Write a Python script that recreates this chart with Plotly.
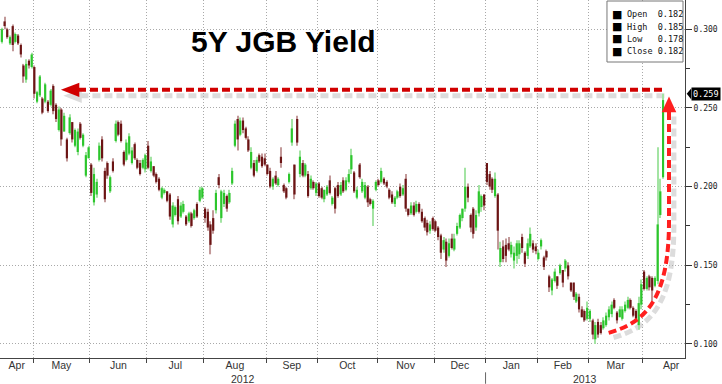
import numpy as np
import plotly.graph_objects as go

# ---------------- data ----------------
MONTHS = ["Apr", "May", "Jun", "Jul", "Aug", "Sep", "Oct", "Nov", "Dec", "Jan", "Feb", "Mar", "Apr"]
MONTH_DAYS = [12, 21, 21, 21, 23, 19, 22, 21, 19, 19, 19, 20, 8]   # trading days shown per month
YEARS = ["2012", "2013"]
YEAR_FIRST_MONTH = [0, 9]
TITLE = "5Y JGB Yield"
LEGEND_ROWS = [("Open", 0.182), ("High", 0.185), ("Low", 0.178), ("Close", 0.182)]
Y_TICKS = [0.100, 0.150, 0.200, 0.250, 0.300]
Y_MINOR = [0.125, 0.175, 0.225, 0.275]

OPEN = [
    0.292, 0.305, 0.300, 0.291, 0.302, 0.292, 0.296, 0.290, 0.277, 0.268, 0.280, 0.276,
    0.276, 0.254, 0.258, 0.256, 0.254, 0.254, 0.252, 0.264, 0.252, 0.236, 0.249, 0.235, 0.230, 0.234, 0.241, 0.226, 0.222, 0.240, 0.226, 0.207, 0.218,
    0.214, 0.190, 0.195, 0.217, 0.230, 0.210, 0.215, 0.197, 0.216, 0.229, 0.241, 0.240, 0.222, 0.217, 0.221, 0.215, 0.227, 0.217, 0.215, 0.212, 0.211,
    0.226, 0.210, 0.213, 0.208, 0.205, 0.193, 0.196, 0.197, 0.195, 0.176, 0.182, 0.192, 0.181, 0.184, 0.181, 0.178, 0.183, 0.180, 0.189, 0.191, 0.193,
    0.186, 0.184, 0.176, 0.180, 0.185, 0.206, 0.180, 0.189, 0.194, 0.190, 0.202, 0.226, 0.243, 0.233, 0.242, 0.237, 0.230, 0.212, 0.215, 0.210, 0.220, 0.219, 0.218,
    0.214, 0.210, 0.200, 0.207, 0.201, 0.219, 0.201, 0.199, 0.203, 0.228, 0.214, 0.243, 0.208, 0.215, 0.207, 0.208, 0.199, 0.203, 0.196,
    0.202, 0.199, 0.192, 0.195, 0.204, 0.189, 0.199, 0.201, 0.195, 0.204, 0.198, 0.203, 0.211, 0.209, 0.193, 0.214, 0.197, 0.193, 0.200, 0.192, 0.186, 0.198,
    0.204, 0.203, 0.205, 0.203, 0.198, 0.195, 0.189, 0.193, 0.200, 0.195, 0.205, 0.186, 0.183, 0.188, 0.184, 0.189, 0.184, 0.180, 0.177, 0.172, 0.180,
    0.178, 0.174, 0.169, 0.160, 0.165, 0.156, 0.167, 0.160, 0.170, 0.174, 0.180, 0.186, 0.200, 0.182, 0.186, 0.174, 0.183, 0.187, 0.195,
    0.215, 0.208, 0.205, 0.194, 0.195, 0.152, 0.162, 0.163, 0.164, 0.157, 0.153, 0.156, 0.157, 0.168, 0.158, 0.156, 0.162, 0.164, 0.162,
    0.154, 0.162, 0.155, 0.159, 0.143, 0.134, 0.140, 0.143, 0.145, 0.147, 0.148, 0.150, 0.139, 0.139, 0.127, 0.130, 0.122, 0.121, 0.116,
    0.116, 0.115, 0.103, 0.114, 0.112, 0.110, 0.112, 0.117, 0.119, 0.128, 0.120, 0.117, 0.116, 0.121, 0.123, 0.128, 0.123, 0.121, 0.112, 0.125,
    0.146, 0.135, 0.143, 0.142, 0.137, 0.140, 0.182, 0.206,
]
HIGH = [
    0.301, 0.308, 0.301, 0.296, 0.303, 0.298, 0.297, 0.291, 0.278, 0.281, 0.281, 0.285,
    0.277, 0.261, 0.271, 0.257, 0.266, 0.255, 0.262, 0.265, 0.253, 0.251, 0.250, 0.247, 0.231, 0.246, 0.241, 0.237, 0.237, 0.241, 0.234, 0.222, 0.226,
    0.215, 0.212, 0.205, 0.228, 0.232, 0.212, 0.216, 0.207, 0.218, 0.242, 0.242, 0.242, 0.223, 0.230, 0.234, 0.225, 0.228, 0.218, 0.217, 0.218, 0.221,
    0.229, 0.219, 0.213, 0.209, 0.206, 0.200, 0.199, 0.197, 0.196, 0.190, 0.188, 0.194, 0.190, 0.191, 0.182, 0.184, 0.184, 0.186, 0.190, 0.200, 0.200,
    0.187, 0.186, 0.178, 0.185, 0.198, 0.208, 0.198, 0.198, 0.195, 0.198, 0.212, 0.242, 0.245, 0.244, 0.244, 0.238, 0.232, 0.225, 0.217, 0.219, 0.221, 0.221, 0.221,
    0.214, 0.212, 0.206, 0.210, 0.206, 0.225, 0.202, 0.200, 0.209, 0.243, 0.214, 0.245, 0.223, 0.217, 0.215, 0.210, 0.207, 0.204, 0.203,
    0.203, 0.200, 0.198, 0.201, 0.207, 0.194, 0.200, 0.203, 0.203, 0.206, 0.206, 0.211, 0.224, 0.210, 0.200, 0.215, 0.205, 0.203, 0.201, 0.193, 0.192, 0.204,
    0.205, 0.212, 0.206, 0.204, 0.199, 0.197, 0.194, 0.198, 0.202, 0.201, 0.208, 0.186, 0.190, 0.190, 0.191, 0.190, 0.186, 0.181, 0.179, 0.178, 0.181,
    0.179, 0.175, 0.170, 0.168, 0.167, 0.167, 0.170, 0.170, 0.177, 0.183, 0.186, 0.212, 0.202, 0.183, 0.187, 0.185, 0.201, 0.195, 0.195,
    0.215, 0.210, 0.206, 0.209, 0.196, 0.165, 0.166, 0.167, 0.168, 0.165, 0.162, 0.166, 0.166, 0.170, 0.159, 0.167, 0.174, 0.166, 0.164,
    0.160, 0.167, 0.156, 0.160, 0.144, 0.142, 0.148, 0.143, 0.151, 0.147, 0.154, 0.152, 0.139, 0.139, 0.133, 0.132, 0.124, 0.122, 0.127,
    0.122, 0.116, 0.114, 0.116, 0.114, 0.117, 0.120, 0.124, 0.127, 0.129, 0.121, 0.124, 0.124, 0.127, 0.130, 0.129, 0.124, 0.122, 0.130, 0.141,
    0.147, 0.143, 0.144, 0.143, 0.143, 0.225, 0.205, 0.259,
]
LOW = [
    0.291, 0.300, 0.294, 0.290, 0.286, 0.291, 0.290, 0.282, 0.266, 0.266, 0.275, 0.275,
    0.256, 0.253, 0.257, 0.246, 0.253, 0.247, 0.251, 0.246, 0.241, 0.235, 0.226, 0.235, 0.216, 0.233, 0.228, 0.225, 0.220, 0.230, 0.225, 0.206, 0.218,
    0.194, 0.188, 0.193, 0.216, 0.216, 0.190, 0.205, 0.196, 0.209, 0.228, 0.232, 0.228, 0.213, 0.216, 0.220, 0.214, 0.217, 0.211, 0.207, 0.211, 0.209,
    0.211, 0.209, 0.206, 0.202, 0.197, 0.192, 0.195, 0.190, 0.179, 0.174, 0.181, 0.176, 0.180, 0.183, 0.175, 0.177, 0.174, 0.179, 0.180, 0.190, 0.192,
    0.177, 0.172, 0.157, 0.170, 0.183, 0.199, 0.177, 0.187, 0.184, 0.189, 0.201, 0.225, 0.223, 0.232, 0.234, 0.230, 0.222, 0.211, 0.206, 0.209, 0.215, 0.212, 0.213,
    0.207, 0.199, 0.198, 0.201, 0.200, 0.212, 0.196, 0.192, 0.202, 0.226, 0.192, 0.226, 0.206, 0.206, 0.206, 0.193, 0.198, 0.198, 0.194,
    0.193, 0.192, 0.190, 0.194, 0.195, 0.188, 0.183, 0.193, 0.194, 0.196, 0.197, 0.202, 0.208, 0.196, 0.192, 0.205, 0.196, 0.192, 0.187, 0.188, 0.175, 0.197,
    0.200, 0.202, 0.201, 0.199, 0.192, 0.189, 0.187, 0.192, 0.193, 0.194, 0.184, 0.181, 0.182, 0.181, 0.183, 0.183, 0.177, 0.172, 0.169, 0.170, 0.172,
    0.171, 0.166, 0.154, 0.158, 0.149, 0.155, 0.160, 0.159, 0.169, 0.173, 0.178, 0.184, 0.190, 0.171, 0.167, 0.172, 0.181, 0.184, 0.185,
    0.201, 0.198, 0.196, 0.193, 0.160, 0.149, 0.152, 0.152, 0.159, 0.155, 0.148, 0.151, 0.154, 0.158, 0.149, 0.154, 0.161, 0.158, 0.157,
    0.153, 0.160, 0.147, 0.153, 0.133, 0.131, 0.139, 0.135, 0.144, 0.136, 0.146, 0.141, 0.133, 0.128, 0.126, 0.120, 0.117, 0.114, 0.115,
    0.114, 0.103, 0.100, 0.104, 0.106, 0.109, 0.111, 0.115, 0.117, 0.122, 0.113, 0.117, 0.115, 0.120, 0.122, 0.122, 0.117, 0.115, 0.109, 0.122,
    0.134, 0.134, 0.134, 0.126, 0.136, 0.138, 0.180, 0.205,
]
CLOSE = [
    0.300, 0.302, 0.295, 0.295, 0.290, 0.297, 0.291, 0.284, 0.270, 0.278, 0.277, 0.284,
    0.259, 0.260, 0.270, 0.247, 0.265, 0.248, 0.261, 0.248, 0.243, 0.249, 0.230, 0.245, 0.218, 0.244, 0.230, 0.236, 0.235, 0.231, 0.233, 0.220, 0.225,
    0.196, 0.208, 0.203, 0.226, 0.218, 0.192, 0.207, 0.206, 0.210, 0.240, 0.233, 0.229, 0.214, 0.228, 0.232, 0.223, 0.218, 0.212, 0.208, 0.217, 0.220,
    0.212, 0.216, 0.207, 0.203, 0.198, 0.199, 0.198, 0.191, 0.181, 0.188, 0.187, 0.178, 0.188, 0.189, 0.176, 0.183, 0.175, 0.185, 0.181, 0.198, 0.199,
    0.180, 0.174, 0.163, 0.172, 0.196, 0.201, 0.197, 0.196, 0.186, 0.196, 0.210, 0.240, 0.230, 0.242, 0.236, 0.231, 0.223, 0.222, 0.207, 0.217, 0.216, 0.213, 0.214,
    0.208, 0.200, 0.205, 0.202, 0.205, 0.215, 0.197, 0.193, 0.208, 0.237, 0.195, 0.228, 0.219, 0.207, 0.214, 0.194, 0.205, 0.199, 0.202,
    0.194, 0.193, 0.198, 0.200, 0.196, 0.193, 0.186, 0.194, 0.201, 0.197, 0.204, 0.208, 0.220, 0.197, 0.198, 0.206, 0.203, 0.201, 0.190, 0.189, 0.191, 0.203,
    0.201, 0.210, 0.202, 0.200, 0.193, 0.190, 0.193, 0.197, 0.194, 0.199, 0.186, 0.182, 0.188, 0.182, 0.189, 0.184, 0.178, 0.174, 0.171, 0.176, 0.173,
    0.172, 0.168, 0.158, 0.166, 0.153, 0.164, 0.161, 0.167, 0.175, 0.182, 0.186, 0.200, 0.193, 0.174, 0.170, 0.182, 0.197, 0.194, 0.188,
    0.203, 0.200, 0.198, 0.205, 0.172, 0.161, 0.154, 0.156, 0.160, 0.163, 0.158, 0.164, 0.164, 0.161, 0.151, 0.164, 0.170, 0.160, 0.159,
    0.158, 0.166, 0.149, 0.155, 0.136, 0.141, 0.146, 0.137, 0.150, 0.139, 0.153, 0.143, 0.134, 0.130, 0.132, 0.122, 0.117, 0.115, 0.123,
    0.121, 0.106, 0.112, 0.106, 0.107, 0.115, 0.118, 0.122, 0.125, 0.123, 0.115, 0.122, 0.122, 0.125, 0.128, 0.123, 0.118, 0.116, 0.126, 0.138,
    0.135, 0.142, 0.136, 0.134, 0.142, 0.176, 0.197, 0.255,
]

# ---------------- build ----------------
o, h, l, c = (np.array(a, dtype=float) for a in (OPEN, HIGH, LOW, CLOSE))
n = len(c)
if not (len(o) == len(h) == len(l) == n == sum(MONTH_DAYS)):
    raise SystemExit(f"length mismatch {len(o)} {len(h)} {len(l)} {n} {sum(MONTH_DAYS)}")
x = np.arange(n)
up = c >= o

X_RANGE = [-0.68, 252.1]
Y_RANGE = [0.0911, 0.3186]

UP_BODY, UP_WICK = "#2cc62c", "#a3e4a3"
DN_BODY, DN_WICK = "#6b1414", "#c29999"
GRID = "#a9a9a9"
AX = "#444444"

fig = go.Figure()
body_lo = np.minimum(o, c)
body_h = np.maximum(np.abs(c - o), 0.0008)
for mask, wcol, bcol in ((up, UP_WICK, UP_BODY), (~up, DN_WICK, DN_BODY)):
    fig.add_trace(go.Bar(x=x[mask], base=l[mask], y=(h - l)[mask], width=0.4,
                         marker=dict(color=wcol, line_width=0), hoverinfo="skip"))
    fig.add_trace(go.Bar(x=x[mask], base=body_lo[mask], y=body_h[mask], width=0.8,
                         marker=dict(color=bcol, line_width=0), hoverinfo="skip"))

# month boundaries & label centres (trading-day index space)
cum = np.cumsum(MONTH_DAYS)
starts = np.concatenate([[0], cum[:-1]]) - 0.5
bounds = list(starts[1:])
centers = []
for i, s in enumerate(starts):
    lo = max(s, X_RANGE[0])
    hi = starts[i + 1] if i + 1 < len(starts) else s + 21
    centers.append((lo + hi) / 2)

year_edges = [max(starts[m], X_RANGE[0]) for m in YEAR_FIRST_MONTH] + [X_RANGE[1]]

fig.update_layout(
    width=722, height=384,
    margin=dict(l=0, r=37, t=0, b=26),
    paper_bgcolor="white", plot_bgcolor="white",
    barmode="overlay", showlegend=False, hovermode=False,
    xaxis=dict(
        range=X_RANGE, tickmode="array", tickvals=centers, ticktext=MONTHS,
        ticks="", showgrid=False, zeroline=False,
        showline=True, linecolor=AX, linewidth=1, ticklabelstandoff=-3,
        tickfont=dict(family="Liberation Sans, Arial", size=10.5, color="#333333"),
        minor=dict(tickmode="array", tickvals=bounds, showgrid=True, gridcolor=GRID,
                   griddash="1px,2px", gridwidth=1, ticks="outside", ticklen=4,
                   tickcolor=AX),
    ),
    yaxis=dict(
        range=Y_RANGE, side="right", tickmode="array", tickvals=Y_TICKS,
        tickformat=".3f", showgrid=True, gridcolor=GRID, griddash="1px,2px",
        zeroline=False, showline=True, linecolor=AX, linewidth=1,
        ticks="outside", ticklen=6, tickcolor="#333333",
        tickfont=dict(family="DejaVu Sans Mono", size=8, color="#222222"),
        minor=dict(tickmode="array", tickvals=Y_MINOR, ticks="outside", ticklen=4,
                   tickcolor="#333333", showgrid=False),
    ),
)

ann = []
# title
ann.append(dict(text=f"<b>{TITLE}</b>", xref="paper", yref="paper", x=0.4139, y=0.883,
                xanchor="center", yanchor="middle", showarrow=False,
                font=dict(family="Liberation Sans, Arial", size=30, color="black")))
# years
for i, yr in enumerate(YEARS):
    ann.append(dict(text=yr, xref="x", yref="paper", x=(year_edges[i] + year_edges[i + 1]) / 2,
                    y=-0.058, yanchor="middle", showarrow=False,
                    font=dict(family="Liberation Sans, Arial", size=10.5, color="#333333")))
# last-price label (high of the last session)
level = float(h[-1])
ann.append(dict(text=f"{level:.3f}", xref="paper", yref="y", x=1, y=level, xanchor="left",
                xshift=6, yanchor="middle", showarrow=False, bgcolor="black", borderpad=1,
                font=dict(family="DejaVu Sans Mono", size=8.5, color="white")))
# legend box rows
row_y = [0.9601, 0.9254, 0.8911, 0.8575]
for (name, val), yy in zip(LEGEND_ROWS, row_y):
    ann.append(dict(text="■", xref="paper", yref="paper", x=0.9007, y=yy, xanchor="center",
                    yanchor="middle", showarrow=False,
                    font=dict(family="DejaVu Sans", size=11, color="black")))
    ann.append(dict(text=f"{name:<6}{val:.3f}", xref="paper", yref="paper", x=0.9124, y=yy,
                    xanchor="left", yanchor="middle", showarrow=False,
                    font=dict(family="DejaVu Sans Mono", size=8.5, color="#111111")))

shapes = []
# year separator below axis
shapes.append(dict(type="line", xref="x", yref="paper", x0=starts[YEAR_FIRST_MONTH[1]],
                   x1=starts[YEAR_FIRST_MONTH[1]], y0=-0.04, y1=-0.072,
                   line=dict(color="#666666", width=1)))
# legend frame
shapes.append(dict(type="rect", xref="paper", yref="paper", x0=0.8861, x1=0.9971, y0=0.8268,
                   y1=0.9972, fillcolor="white", line=dict(color="#777777", width=1), layer="above"))
# price label pointer
shapes.append(dict(type="path", xref="paper", yref="y",
                   path=f"M 1.0025,{level} L 1.009,{level + 0.0034} L 1.009,{level - 0.0034} Z",
                   fillcolor="black", line=dict(width=0)))

# red dashed arrows (annotation graphics)
RED_H, RED_V, SHADOW = "#d10000", "#ff1f1f", "#dcdcdc"
DASH = "8px,4px"
ly = level + 0.0025
# shadows
shapes.append(dict(type="line", xref="x", yref="y", x0=29.0, x1=n - 0.2, y0=ly - 0.0038, y1=ly - 0.0038,
                   line=dict(color=SHADOW, width=5, dash=DASH), layer="below"))
shapes.append(dict(type="path", xref="x", yref="y",
                   path=f"M 22.7,{ly - 0.0038} L 29.5,{ly + 0.0007} L 29.5,{ly - 0.0083} Z",
                   fillcolor=SHADOW, line=dict(width=0), layer="below"))
shapes.append(dict(type="path", xref="x", yref="y",
                   path="M 248.0,0.2445 L 248.0,0.1753 C 248.0,0.1245 239.1,0.1099 224.4,0.1035",
                   line=dict(color=SHADOW, width=5, dash=DASH), layer="below"))
# horizontal arrow
shapes.append(dict(type="line", xref="x", yref="y", x0=28.1, x1=n - 1, y0=ly, y1=ly,
                   line=dict(color=RED_H, width=4, dash=DASH)))
shapes.append(dict(type="path", xref="x", yref="y",
                   path=f"M 21.8,{ly} L 28.6,{ly + 0.0045} L 28.6,{ly - 0.0045} Z",
                   fillcolor=RED_H, line=dict(width=0)))
# vertical curved arrow
shapes.append(dict(type="path", xref="x", yref="y",
                   path="M 246.2,0.2475 L 246.2,0.1783 C 246.2,0.1275 237.3,0.1129 222.6,0.1065",
                   line=dict(color=RED_V, width=4, dash=DASH)))
shapes.append(dict(type="path", xref="x", yref="y",
                   path="M 246.2,0.2572 L 243.5,0.2472 L 248.9,0.2472 Z",
                   fillcolor=RED_V, line=dict(width=0)))

fig.update_layout(annotations=ann, shapes=shapes)
fig.write_html("out.html", config={"displayModeBar": False},
               post_script="document.body.style.margin='0px';document.body.style.overflow='hidden';")
